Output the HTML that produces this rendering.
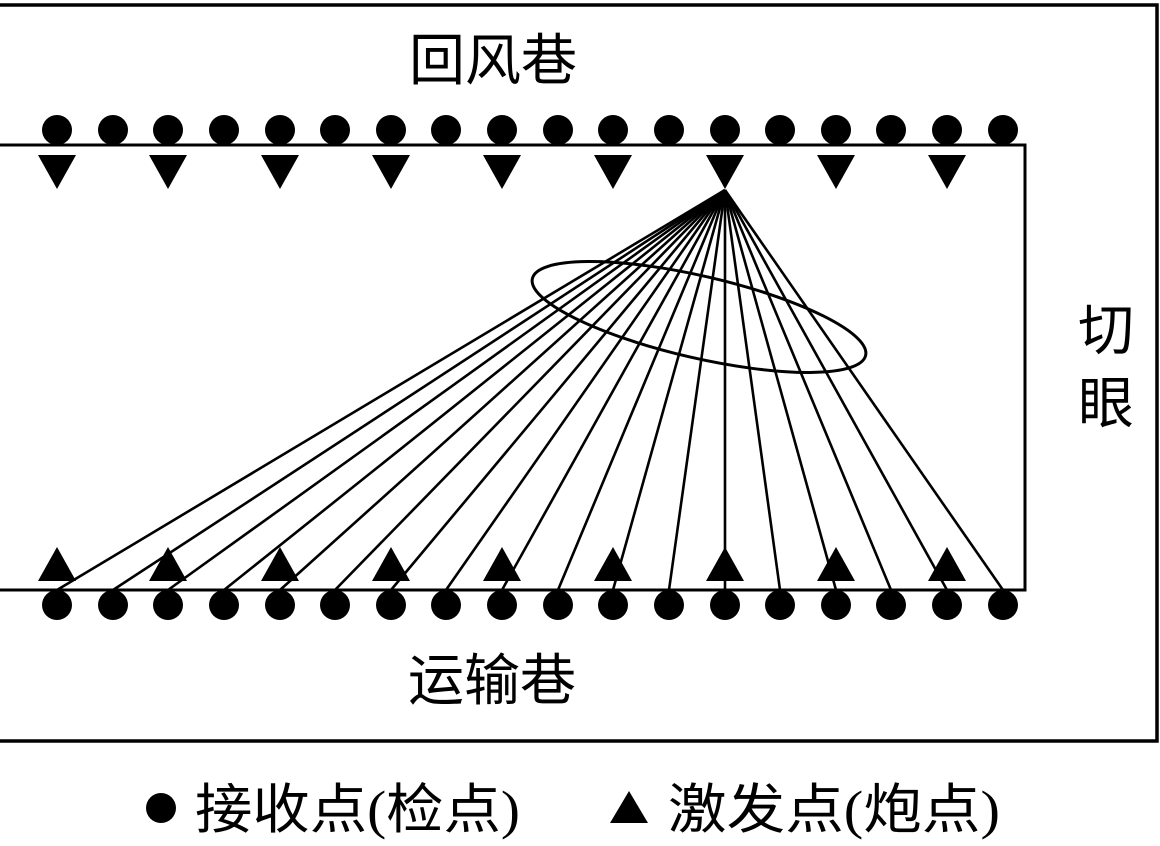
<!DOCTYPE html>
<html><head><meta charset="utf-8"><style>
html,body{margin:0;padding:0;background:#fff;}
svg{display:block;}
text{font-family:"Liberation Serif","Noto Sans CJK SC",serif;fill:#000;}
</style></head><body>
<svg width="1160" height="846" viewBox="0 0 1160 846" xmlns="http://www.w3.org/2000/svg">
<polyline points="0,5 1157,5 1157,741 0,741" fill="none" stroke="#000" stroke-width="3.5"/>
<polyline points="0,145 1025,145 1025,590 0,590" fill="none" stroke="#000" stroke-width="3"/>
<g id="fan" stroke="#000" stroke-width="2.6">
<line x1="725" y1="190" x2="57" y2="590"/><line x1="725" y1="190" x2="113" y2="590"/>
<line x1="725" y1="190" x2="168" y2="590"/><line x1="725" y1="190" x2="224" y2="590"/>
<line x1="725" y1="190" x2="280" y2="590"/><line x1="725" y1="190" x2="335" y2="590"/>
<line x1="725" y1="190" x2="391" y2="590"/><line x1="725" y1="190" x2="446" y2="590"/>
<line x1="725" y1="190" x2="502" y2="590"/><line x1="725" y1="190" x2="558" y2="590"/>
<line x1="725" y1="190" x2="613" y2="590"/><line x1="725" y1="190" x2="669" y2="590"/>
<line x1="725" y1="190" x2="725" y2="590"/><line x1="725" y1="190" x2="780" y2="590"/>
<line x1="725" y1="190" x2="836" y2="590"/><line x1="725" y1="190" x2="891" y2="590"/>
<line x1="725" y1="190" x2="947" y2="590"/><line x1="725" y1="190" x2="1003" y2="590"/>
</g>
<ellipse cx="699" cy="317" rx="171" ry="41" transform="rotate(13 699 317)" fill="none" stroke="#000" stroke-width="3"/>
<g fill="#000">
<circle cx="57" cy="130" r="15"/><circle cx="113" cy="130" r="15"/><circle cx="168" cy="130" r="15"/><circle cx="224" cy="130" r="15"/><circle cx="280" cy="130" r="15"/><circle cx="335" cy="130" r="15"/><circle cx="391" cy="130" r="15"/><circle cx="446" cy="130" r="15"/><circle cx="502" cy="130" r="15"/><circle cx="558" cy="130" r="15"/><circle cx="613" cy="130" r="15"/><circle cx="669" cy="130" r="15"/><circle cx="725" cy="130" r="15"/><circle cx="780" cy="130" r="15"/><circle cx="836" cy="130" r="15"/><circle cx="891" cy="130" r="15"/><circle cx="947" cy="130" r="15"/><circle cx="1003" cy="130" r="15"/>
<circle cx="57" cy="605" r="15"/><circle cx="113" cy="605" r="15"/><circle cx="168" cy="605" r="15"/><circle cx="224" cy="605" r="15"/><circle cx="280" cy="605" r="15"/><circle cx="335" cy="605" r="15"/><circle cx="391" cy="605" r="15"/><circle cx="446" cy="605" r="15"/><circle cx="502" cy="605" r="15"/><circle cx="558" cy="605" r="15"/><circle cx="613" cy="605" r="15"/><circle cx="669" cy="605" r="15"/><circle cx="725" cy="605" r="15"/><circle cx="780" cy="605" r="15"/><circle cx="836" cy="605" r="15"/><circle cx="891" cy="605" r="15"/><circle cx="947" cy="605" r="15"/><circle cx="1003" cy="605" r="15"/>
<polygon points="38,155 76,155 57,189"/><polygon points="149,155 187,155 168,189"/><polygon points="261,155 299,155 280,189"/><polygon points="372,155 410,155 391,189"/><polygon points="483,155 521,155 502,189"/><polygon points="594,155 632,155 613,189"/><polygon points="706,155 744,155 725,189"/><polygon points="817,155 855,155 836,189"/><polygon points="928,155 966,155 947,189"/>
<polygon points="38,581 76,581 57,547"/><polygon points="149,581 187,581 168,547"/><polygon points="261,581 299,581 280,547"/><polygon points="372,581 410,581 391,547"/><polygon points="483,581 521,581 502,547"/><polygon points="594,581 632,581 613,547"/><polygon points="706,581 744,581 725,547"/><polygon points="817,581 855,581 836,547"/><polygon points="928,581 966,581 947,547"/>
</g>
<text x="493" y="80" font-size="56" text-anchor="middle">回风巷</text>
<text x="492" y="700" font-size="56" text-anchor="middle">运输巷</text>
<text x="1106" y="350" font-size="56" text-anchor="middle">切</text>
<text x="1106" y="423" font-size="56" text-anchor="middle">眼</text>
<circle cx="161" cy="808" r="15" fill="#000"/>
<text x="195" y="828" font-size="54" textLength="325" lengthAdjust="spacingAndGlyphs">接收点(检点)</text>
<polygon points="610,823 648,823 629,791" fill="#000"/>
<text x="668" y="828" font-size="54" textLength="332" lengthAdjust="spacingAndGlyphs">激发点(炮点)</text>
</svg>
</body></html>
